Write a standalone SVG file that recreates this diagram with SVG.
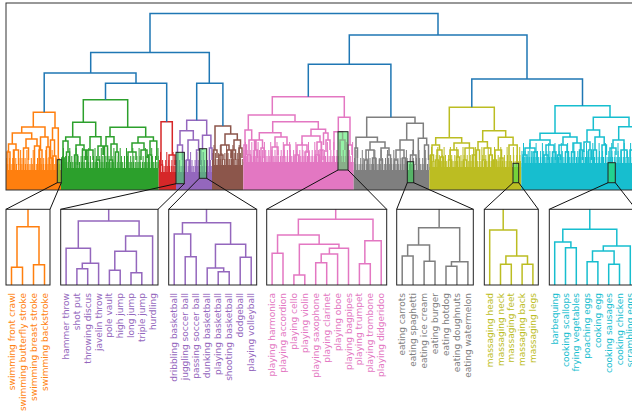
<svg xmlns="http://www.w3.org/2000/svg" width="632" height="411" viewBox="0 0 632 411">
<style>
.l{fill:none;stroke-width:1.5}
.k{stroke:#1f77b4}.o{stroke:#ff7f0e}.g{stroke:#2ca02c}.r{stroke:#d62728}.p{stroke:#9467bd}.b{stroke:#8c564b}.m{stroke:#e377c2}.y{stroke:#7f7f7f}.v{stroke:#bcbd22}.c{stroke:#17becf}
.fo{fill:#ff7f0e}.fg{fill:#2ca02c}.fr{fill:#d62728}.fp{fill:#9467bd}.fb{fill:#8c564b}.fm{fill:#e377c2}.fy{fill:#7f7f7f}.fv{fill:#bcbd22}.fc{fill:#17becf}
.cb1{fill:none;stroke-width:12;stroke-dasharray:1 2.1}
.cb2{fill:none;stroke-width:6;stroke-dasharray:1 0.8}
.cb3{fill:none;stroke-width:20;stroke-dasharray:1 5.3}
.hl{fill:#2ee850;fill-opacity:0.5;stroke:#222;stroke-width:1}
.fr0{fill:none;stroke:#333;stroke-width:1}
.pf{fill:none;stroke:#222;stroke-width:1}
.cn{fill:none;stroke:#111;stroke-width:1}
.t{font-family:"DejaVu Sans",sans-serif;font-size:9px;text-anchor:end}
.to{fill:#ff7f0e}.tp{fill:#9467bd}.tm{fill:#e377c2}.ty{fill:#7f7f7f}.tv{fill:#bcbd22}.tc{fill:#17becf}
</style>
<rect x="0" y="0" width="632" height="411" fill="#fff"/>
<g id="dendrogram">
<g id="dense">
<rect class="fo" x="6" y="170" width="55" height="20"/>
<rect class="fg" x="61" y="168" width="97.7" height="22"/>
<rect class="fr" x="158.7" y="172" width="17.3" height="18"/>
<rect class="fp" x="176" y="172" width="36" height="18"/>
<rect class="fb" x="212" y="165" width="31.3" height="25"/>
<rect class="fm" x="243.3" y="162" width="110.4" height="28"/>
<rect class="fy" x="353.7" y="170" width="75.6" height="20"/>
<rect class="fv" x="429.3" y="167" width="92" height="23"/>
<rect class="fc" x="521.3" y="163" width="120" height="27"/>
<path class="cb3 o" d="M7.5 160H61"/><path class="cb1 o" d="M6 164H61"/><path class="cb2 o" d="M7 167H61"/>
<path class="cb3 g" d="M63 158H158.7"/><path class="cb1 g" d="M62 162H158.7"/><path class="cb2 g" d="M61 165H158.7"/>
<path class="cb3 r" d="M160 162H176"/><path class="cb1 r" d="M159 166H176"/><path class="cb2 r" d="M160 169H176"/>
<path class="cb3 p" d="M177.5 162H212"/><path class="cb1 p" d="M176 166H212"/><path class="cb2 p" d="M177 169H212"/>
<path class="cb3 b" d="M213.5 155H243.3"/><path class="cb1 b" d="M212 159H243.3"/><path class="cb2 b" d="M213 162H243.3"/>
<path class="cb3 m" d="M245 152H353.7"/><path class="cb1 m" d="M243.5 156H353.7"/><path class="cb2 m" d="M244 159H353.7"/>
<path class="cb3 y" d="M355.5 160H429.3"/><path class="cb1 y" d="M354 164H429.3"/><path class="cb2 y" d="M355 167H429.3"/>
<path class="cb3 v" d="M431 157H521.3"/><path class="cb1 v" d="M429.5 161H521.3"/><path class="cb2 v" d="M430 164H521.3"/>
<path class="cb3 c" d="M523 153H640"/><path class="cb1 c" d="M521.5 157H640"/><path class="cb2 c" d="M522 160H640"/>
</g>
<g id="cluster-orange">
<path class="l o" d="M33.3 127V112.3H55V128M21.7 133V127H45V137M12.3 144V133H31.7V139M8.5 152V144H16V150M26 148V139H37V146M40.5 150V137H48V147M52.5 140V128H58.3V170M50.5 158V140H54.5V156M7 170V152H10V170M13.5 170V150H18.5V165M23.5 170V148H28.5V160M34.5 170V146H39.5V160M39 170V150H42V170M46.5 170V147H49.5V165M49 170V158H52V170M53 170V156H56V170"/>
</g>
<g id="cluster-green">
<path class="l g" d="M83.3 122.3V99.7H127.7V127.3M72.7 137V122.3H95.7V136.7M65.7 141V137H80V145M110 136.7V127.3H145.7V137M106 146V136.7H114V144M138 143V137H153.4V141M90 150V136.7H101V146M63 158V141H68V152M76 155V145H84V150M87 168V150H93V160M98 160V146H103V155M104.5 168V146H107.5V160M111 160V144H117V152M132 152V143H144V150M150 155V141H156.8V160M115.5 168V152H118.5V162M109.5 168V160H112.5V168M128 168V152H136V160M141 160V150H147V158M148.5 168V155H151.5V168M61.8 168V158H64.2V168M66.5 168V152H69.5V162M74.5 168V155H77.5V165M82.5 168V150H85.5V160M96.5 168V160H99.5V168"/>
</g>
<g id="cluster-red">
<path class="l r" d="M161 165V121.7H172.3V155M169 172V155H175V165M159.5 172V165H162.5V172"/>
</g>
<g id="cluster-purple">
<path class="l p" d="M186.7 130.7V120.3H206.7V135.3M180 145V130.7H193.3V140M202.5 150V135.3H210.9V148M177.5 172V145H182.5V160M188 160V140H198.6V150M186.5 172V160H189.5V172M196.5 172V150H200.7V165M209.4 172V148H212V160"/>
</g>
<g id="cluster-brown">
<path class="l b" d="M215 150V126H230.7V134M225 145V134H237.3V140M213.5 165V150H217V158M221 155V145H229V150M234 150V140H240.5V148M219 165V155H223V160M227 165V150H231V158M232.5 165V150H235.5V160M239 165V148H242V158"/>
</g>
<g id="cluster-pink">
<path class="l m" d="M272.3 115V96.7H344.3V117.3M248.3 130V115H295V121.7M245 145V130H251.7V140M272.7 132.7V121.7H318.3V129.3M259.3 140V132.7H281V137M311 136V129.3H325.6V133M338.3 131.7V117.3H350V145M348 162V145H352V155M244 162V145H246.5V155M249 155V140H254.5V150M256 150V140H262.5V148M275 147V137H287V145M302 145V136H320V142M323.5 145V133H328V140M297 155V145H307V152M317 155V142H321.5V150M326 152V140H330V150M272 162V147H278V155M284 158V145H290V152M254.5 162V150H257.5V158M261 162V148H264V158M247.5 162V155H250.5V162M295 162V155H299V162M305 162V152H309V160M315.5 162V155H318.5V162M320 162V150H323V160M334 150V131.7H342.6V140M340 162V140H345V150"/>
</g>
<g id="cluster-grey">
<path class="l y" d="M366.7 137.3V117.3H415V123.3M356 148V137.3H377.4V142M406.7 140V123.3H423.3V138.3M370 150V142H385V148M355 170V148H357.5V158M400 150V140H413.3V155M418.3 170V138.3H426.7V145M366 160V150H374V158M381 160V148H389V155M396 160V150H404V158M410.5 170V155H416V165M424.5 170V145H428.5V160M364.5 170V160H367.5V170M372.5 170V158H375.5V170M379.5 170V160H382.5V170M387.5 170V155H390.5V170M394.5 170V160H397.5V170M402.5 170V158H405.5V170"/>
</g>
<g id="cluster-olive">
<path class="l v" d="M449.3 137.7V107.3H494.3V130.7M435.7 145V137.7H461.7V143M482.7 141.7V130.7H505.7V137.3M498.3 150V137.3H513.1V145M432 155V145H439.5V150M454 150V143H469.4V148M478 150V141.7H487.4V148M495 160V150H501.5V158M509 167V145H517.2V163M450 160V150H458V157M465 160V148H473.8V155M476.5 167V150H479.5V160M484 160V148H490.8V155M430.5 167V155H433.5V162M437 160V150H442V157M448.5 167V160H451.5V167M456.5 167V157H459.5V167M463.5 167V160H466.5V167M472.3 167V155H475.3V167M482.5 167V160H485.5V167M489.3 167V155H492.3V167M493.5 167V160H496.5V167M500 167V158H503V167M435.5 167V160H438.5V167M440.5 167V157H443.5V167"/>
</g>
<g id="cluster-cyan">
<path class="l c" d="M555 133.3V105.7H610V117.3M540 140V133.3H570V137M593.3 130V117.3H629V126.7M618.7 140V126.7H640V135M530 148V140H550V145M563 145V137H577V143M587 142V130H599.6V137M525 155V148H535V152M546 155V145H554V152M559 155V145H567V152M573 152V143H581V150M584 152V142H590V150M595 150V137H604.2V145M602 163V145H606.4V155M613 148V140H624V150M636 150V135H644V145M610 163V148H616V155M621 163V150H627V158M523 163V155H527V163M533 163V152H537V160M544 163V155H548V160M552.5 163V152H555.5V160M557.5 163V155H560.5V160M565.5 163V152H568.5V160M571.5 163V152H574.5V160M579.5 163V150H582.5V160M588.5 163V150H591.5V160M593.5 163V150H596.5V160M630 163V150H634V160"/>
</g>
<g id="upper-links">
<path class="l k" d="M150 52.5V13.5H438V35M90.7 73V52.5H209.3V83.3M44.2 112.3V73H136V83.3M105.5 99.7V83.3H166.7V121.7M196.7 120.3V83.3H222.9V126M349.3 64.3V35H527V79M308.3 96.7V64.3H390.9V117.3M471.8 107.3V79H582.5V105.7"/>
</g>
<rect id="frame" class="fr0" x="6" y="3" width="640" height="187"/>
<g id="highlights">
<rect class="hl" x="57.3" y="159.7" width="4" height="23"/>
<rect class="hl" x="176" y="152.3" width="8.3" height="31.4"/>
<rect class="hl" x="199.3" y="148.7" width="7.4" height="29.6"/>
<rect class="hl" x="338" y="131.7" width="10" height="38.3"/>
<rect class="hl" x="407.3" y="161.7" width="6.4" height="21"/>
<rect class="hl" x="513" y="163.3" width="5.7" height="19.4"/>
<rect class="hl" x="608" y="162.7" width="7.3" height="20"/>
</g>
</g>
<g id="connectors">
<path class="cn" d="M57.3 182.7L6 209.3M61.3 182.7L50 209.3M176 183.7L60.7 209.3M184.3 183.7L158 209.3M199.3 178.3L168.7 209.3M206.7 178.3L256.7 209.3M338 170L266.7 209.3M348 170L386.7 209.3M407.3 182.7L396.7 209.3M413.7 182.7L473.3 209.3M513 182.7L484.3 209.3M518.7 182.7L538.3 209.3M608 182.7L549.3 209.3M615.3 182.7L636 209.3"/>
</g>
<g id="panel-swimming">
<path class="l o" d="M28 209.3V226.7M17 267.3V226.7H39V264.7M11.5 285V267.3H22.5V285M33.5 285V264.7H44.5V285"/>
<rect class="pf" x="6" y="209.3" width="44" height="75.7"/>
<g class="t to">
<text transform="translate(14.5,293) rotate(-90)">swimming front crawl</text>
<text transform="translate(25.5,293) rotate(-90)">swimming butterfly stroke</text>
<text transform="translate(36.5,293) rotate(-90)">swimming breast stroke</text>
<text transform="translate(47.5,293) rotate(-90)">swimming backstroke</text>
</g>
</g>
<g id="panel-athletics">
<path class="l p" d="M76.9 285V268.7H87.7V285M82.3 268.7V263.3H98.6V285M66.1 285V248.3H90.45V263.3M109.4 285V270.3H120.2V285M131 285V272.7H141.8V285M114.8 270.3V251.3H136.4V272.7M125.6 251.3V236H152.6V285M78.3 248.3V221H139.1V236M108.7 221V209.3"/>
<rect class="pf" x="60.7" y="209.3" width="97.3" height="75.7"/>
<g class="t tp">
<text transform="translate(69.1,293) rotate(-90)">hammer throw</text>
<text transform="translate(79.9,293) rotate(-90)">shot put</text>
<text transform="translate(90.7,293) rotate(-90)">throwing discus</text>
<text transform="translate(101.6,293) rotate(-90)">javelin throw</text>
<text transform="translate(112.4,293) rotate(-90)">pole vault</text>
<text transform="translate(123.2,293) rotate(-90)">high jump</text>
<text transform="translate(134,293) rotate(-90)">long jump</text>
<text transform="translate(144.8,293) rotate(-90)">triple jump</text>
<text transform="translate(155.6,293) rotate(-90)">hurdling</text>
</g>
</g>
<g id="panel-ball">
<path class="l p" d="M185.2 285V256.7H196.2V285M174.2 285V234H190.7V256.7M218.2 285V271.7H229.2V285M207.2 285V268H223.7V271.7M240.2 285V257.3H251.2V285M215.45 268V244.3H245.7V257.3M182.45 234V222.7H230.6V244.3M206.5 222.7V209.3"/>
<rect class="pf" x="168.7" y="209.3" width="88" height="75.7"/>
<g class="t tp">
<text transform="translate(177.2,293) rotate(-90)">dribbling basketball</text>
<text transform="translate(188.2,293) rotate(-90)">juggling soccer ball</text>
<text transform="translate(199.2,293) rotate(-90)">passing soccer ball</text>
<text transform="translate(210.2,293) rotate(-90)">dunking basketball</text>
<text transform="translate(221.2,293) rotate(-90)">playing basketball</text>
<text transform="translate(232.2,293) rotate(-90)">shooting basketball</text>
<text transform="translate(243.2,293) rotate(-90)">dodgeball</text>
<text transform="translate(254.2,293) rotate(-90)">playing volleyball</text>
</g>
</g>
<g id="panel-music">
<path class="l m" d="M272.1 285V253.3H283V285M293.9 285V275H304.8V285M315.7 285V262.7H326.7V285M321.2 262.7V254H337.6V285M329.4 254V248.3H348.5V285M299.35 275V244.3H338.95V248.3M277.55 253.3V235H319.15V244.3M359.4 285V263.7H370.3V285M364.85 263.7V240.7H381.2V285M298.35 235V219.3H373V240.7M335.7 219.3V209.3"/>
<rect class="pf" x="266.7" y="209.3" width="120" height="75.7"/>
<g class="t tm">
<text transform="translate(275.1,293) rotate(-90)">playing harmonica</text>
<text transform="translate(286,293) rotate(-90)">playing accordion</text>
<text transform="translate(296.9,293) rotate(-90)">playing cello</text>
<text transform="translate(307.8,293) rotate(-90)">playing violin</text>
<text transform="translate(318.7,293) rotate(-90)">playing saxophone</text>
<text transform="translate(329.7,293) rotate(-90)">playing clarinet</text>
<text transform="translate(340.6,293) rotate(-90)">playing oboe</text>
<text transform="translate(351.5,293) rotate(-90)">playing bagpipes</text>
<text transform="translate(362.4,293) rotate(-90)">playing trumpet</text>
<text transform="translate(373.3,293) rotate(-90)">playing trombone</text>
<text transform="translate(384.2,293) rotate(-90)">playing didgeridoo</text>
</g>
</g>
<g id="panel-eating">
<path class="l y" d="M402.2 285V256H413.1V285M424.1 285V261.3H435V285M407.65 256V245H429.55V261.3M446 285V266.3H456.9V285M451.45 266.3V261.7H467.9V285M418.6 245V227.7H459.7V261.7M439.15 227.7V209.3"/>
<rect class="pf" x="396.7" y="209.3" width="76.6" height="75.7"/>
<g class="t ty">
<text transform="translate(405.2,293) rotate(-90)">eating carrots</text>
<text transform="translate(416.1,293) rotate(-90)">eating spaghetti</text>
<text transform="translate(427.1,293) rotate(-90)">eating ice cream</text>
<text transform="translate(438,293) rotate(-90)">eating burger</text>
<text transform="translate(449,293) rotate(-90)">eating hotdog</text>
<text transform="translate(459.9,293) rotate(-90)">eating doughnuts</text>
<text transform="translate(470.9,293) rotate(-90)">eating watermelon</text>
</g>
</g>
<g id="panel-massaging">
<path class="l v" d="M500.5 285V264.3H511.3V285M522.1 285V264.3H532.9V285M505.9 264.3V256H527.5V264.3M489.7 285V230H516.7V256M503.2 230V209.3"/>
<rect class="pf" x="484.3" y="209.3" width="54" height="75.7"/>
<g class="t tv">
<text transform="translate(492.7,293) rotate(-90)">massaging head</text>
<text transform="translate(503.5,293) rotate(-90)">massaging neck</text>
<text transform="translate(514.3,293) rotate(-90)">massaging feet</text>
<text transform="translate(525.1,293) rotate(-90)">massaging back</text>
<text transform="translate(535.9,293) rotate(-90)">massaging legs</text>
</g>
</g>
<g id="panel-cooking">
<path class="l c" d="M565.5 285V247.7H576.3V285M554.7 285V242H570.9V247.7M587.1 285V261.7H597.9V285M608.7 285V264.3H619.5V285M592.5 261.7V251H614.1V264.3M603.3 251V246H630.3V285M562.8 242V229.3H616.8V246M589.8 229.3V209.3"/>
<rect class="pf" x="549.3" y="209.3" width="86.4" height="75.7"/>
<g class="t tc">
<text transform="translate(557.7,293) rotate(-90)">barbequing</text>
<text transform="translate(568.5,293) rotate(-90)">cooking scallops</text>
<text transform="translate(579.3,293) rotate(-90)">frying vegetables</text>
<text transform="translate(590.1,293) rotate(-90)">poaching eggs</text>
<text transform="translate(600.9,293) rotate(-90)">cooking egg</text>
<text transform="translate(611.7,293) rotate(-90)">cooking sausages</text>
<text transform="translate(622.5,293) rotate(-90)">cooking chicken</text>
<text transform="translate(633.3,293) rotate(-90)">scrambling eggs</text>
</g>
</g>
</svg>
